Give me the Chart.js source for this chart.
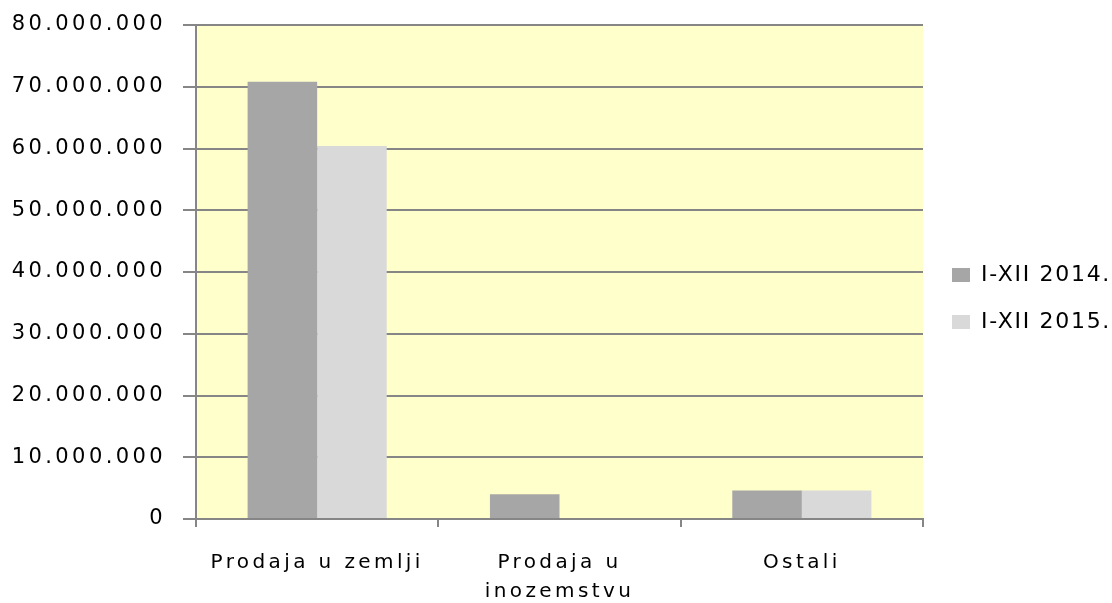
<!DOCTYPE html>
<html><head><meta charset="utf-8">
<script src="https://cdn.jsdelivr.net/npm/chart.js@4"></script>
<style>html,body{margin:0;padding:0;background:#fff;} canvas{display:block;}</style>
</head><body>
<canvas id="c" width="1112" height="603"></canvas>
<script>
const categories = ["Prodaja u zemlji", ["Prodaja u", "inozemstvu"], "Ostali"];
const seriesNames = ["I-XII 2014.", "I-XII 2015."];
const values2014 = [70800000, 4000000, 4600000];
const values2015 = [60400000, 0, 4600000];
const yTickValues = [0, 10000000, 20000000, 30000000, 40000000, 50000000, 60000000, 70000000, 80000000];
const seriesColors = ["#A6A6A6", "#D9D9D9"];

function fmt(v) { return String(Math.round(v)).replace(/\B(?=(\d{3})+(?!\d))/g, "."); }

const GRID = "#868686";
const FONT = "'DejaVu Sans', Verdana, sans-serif";

const bgPlugin = {
  id: "plotBg",
  beforeDraw(chart) {
    const { ctx, chartArea: a } = chart;
    ctx.save();
    ctx.fillStyle = "#FFFFCC";
    ctx.fillRect(a.left, a.top, a.right - a.left, a.bottom - a.top);
    ctx.restore();
  }
};

const chart = new Chart(document.getElementById("c"), {
  type: "bar",
  data: {
    labels: categories,
    datasets: [
      { label: seriesNames[0], data: values2014, backgroundColor: seriesColors[0], borderWidth: 0 },
      { label: seriesNames[1], data: values2015, backgroundColor: seriesColors[1], borderWidth: 0 }
    ]
  },
  options: {
    responsive: false,
    devicePixelRatio: 1,
    animation: false,
    events: [],
    layout: { padding: { top: 25, right: 0, bottom: 0, left: 0 } },
    datasets: { bar: { categoryPercentage: 0.574, barPercentage: 1.0 } },
    scales: {
      x: {
        grid: { display: true, drawOnChartArea: false, drawTicks: true, tickLength: 8, color: GRID, lineWidth: 2, offset: true },
        border: { display: true, color: GRID, width: 2 },
        ticks: { autoSkip: false, maxRotation: 0, minRotation: 0, padding: 21, color: "#000",
                 font: { family: FONT, size: 20, lineHeight: 1.45 } },
        afterFit(s) { s.height = 84; }
      },
      y: {
        min: 0, max: 80000000,
        afterBuildTicks(s) { s.ticks = yTickValues.map(v => ({ value: v })); },
        grid: { color: GRID, lineWidth: 2, drawTicks: true, tickLength: 13 },
        border: { display: true, color: GRID, width: 2 },
        ticks: { padding: 17, color: "#000", font: { family: FONT, size: 21 },
                 callback: v => fmt(v) },
        afterFit(s) { s.width = 196; s.paddingTop = 0; s.paddingBottom = 0; }
      }
    },
    plugins: {
      legend: {
        position: "right",
        labels: { boxWidth: 18, boxHeight: 14, padding: 25, color: "#000", font: { family: FONT, size: 22 } }
      },
      tooltip: { enabled: false },
      title: { display: false }
    }
  },
  plugins: [bgPlugin]
});

function withSpacing(obj, method, spacing, dx, dy) {
  const orig = obj[method];
  obj[method] = function (...args) {
    const ctx = this.ctx;
    ctx.save();
    try { ctx.letterSpacing = spacing; } catch (e) {}
    ctx.translate(dx || 0, dy || 0);
    const r = orig.apply(this, args);
    ctx.restore();
    return r;
  };
}

const lg = chart.legend;
const origFit = lg.fit;
lg.fit = function () { origFit.call(this); this.width = 189; };
withSpacing(lg, "draw", "1.7px", 4, -15.5);
withSpacing(chart.scales.y, "drawLabels", "3.4px", 0, 0);
withSpacing(chart.scales.x, "drawLabels", "3.4px", 0, 0);
chart.update();
</script>
</body></html>
